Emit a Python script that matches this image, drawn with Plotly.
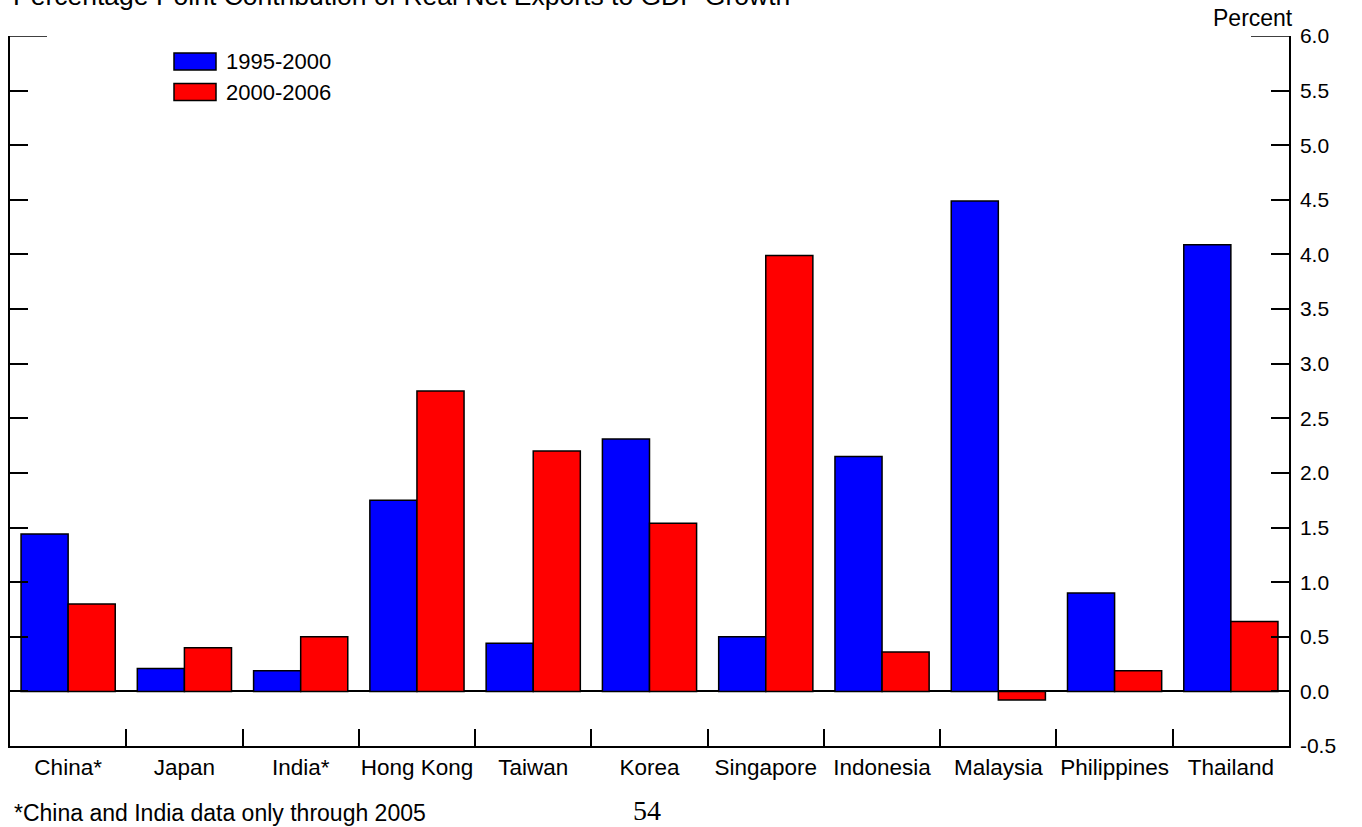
import plotly.graph_objects as go

categories = ["China*", "Japan", "India*", "Hong Kong", "Taiwan", "Korea",
              "Singapore", "Indonesia", "Malaysia", "Philippines", "Thailand"]
s1995_2000 = [1.44, 0.21, 0.19, 1.75, 0.44, 2.31, 0.50, 2.15, 4.49, 0.90, 4.09]
s2000_2006 = [0.80, 0.40, 0.50, 2.75, 2.20, 1.54, 3.99, 0.36, -0.08, 0.19, 0.64]
series_names = ["1995-2000", "2000-2006"]
series_colors = ["#0000FF", "#FF0000"]
ytick_vals = [6.0, 5.5, 5.0, 4.5, 4.0, 3.5, 3.0, 2.5, 2.0, 1.5, 1.0, 0.5, 0.0, -0.5]
ytick_text = ["6.0", "5.5", "5.0", "4.5", "4.0", "3.5", "3.0", "2.5", "2.0", "1.5",
              "1.0", "0.5", "0.0", "-0.5"]

W, H = 1362, 827
L, R, T, B = 10, 73, 36, 81
PW, PH = W - L - R, H - T - B
FONT = "Arial, Liberation Sans, sans-serif"

def px(x):
    return (x - L) / PW

def py(y):
    return 1 - (y - T) / PH

fig = go.Figure()
for name, vals, col in zip(series_names, [s1995_2000, s2000_2006], series_colors):
    fig.add_trace(go.Bar(x=categories, y=vals, name=name,
                         marker=dict(color=col, line=dict(color="black", width=1.5)),
                         showlegend=False))

fig.update_layout(
    width=W, height=H,
    margin=dict(l=L, r=R, t=T, b=B, autoexpand=False),
    paper_bgcolor="white", plot_bgcolor="white",
    barmode="group", bargap=0.19, bargroupgap=0,
    font=dict(family=FONT, size=16, color="black"),
    xaxis=dict(type="category", showgrid=False, showline=True, linecolor="black",
               linewidth=1.5, ticks="inside", tickson="boundaries", ticklen=17,
               tickcolor="black", tickwidth=1.5, mirror=False, tickangle=0,
               automargin=False,
               tickfont=dict(family=FONT, size=22.5), range=[-0.5, 10.5]),
    yaxis=dict(range=[-0.5, 6.0], side="right", showgrid=False, showline=True,
               linecolor="black", linewidth=1.5, ticks="inside", ticklen=18,
               tickcolor="black", tickwidth=1.5, tickvals=ytick_vals, automargin=False,
               ticktext=ytick_text, tickfont=dict(family=FONT, size=21),
               ticklabelstandoff=5,
               zeroline=True, zerolinecolor="black", zerolinewidth=2),
    yaxis2=dict(range=[-0.5, 6.0], overlaying="y", side="left", showgrid=False,
                showline=True, linecolor="black", linewidth=1.5, ticks="inside",
                ticklen=18, tickcolor="black", tickwidth=1.5, tickvals=ytick_vals,
                showticklabels=False, zeroline=False, automargin=False),
)
fig.add_trace(go.Scatter(x=[categories[0]], y=[None], yaxis="y2", showlegend=False,
                         hoverinfo="skip"))

shapes = []
shapes.append(dict(type="line", xref="paper", yref="y", x0=0, x1=px(47), y0=6.0, y1=6.0,
                   line=dict(color="black", width=1.5)))
shapes.append(dict(type="line", xref="paper", yref="y", x0=px(1251), x1=1, y0=6.0, y1=6.0,
                   line=dict(color="black", width=1.5)))
legend_centers = [61.5, 92]
for yc, col in zip(legend_centers, series_colors):
    shapes.append(dict(type="rect", xref="paper", yref="paper",
                       x0=px(174), x1=px(216), y0=py(yc - 8.5), y1=py(yc + 8.5),
                       fillcolor=col, line=dict(color="black", width=1.5)))
fig.update_layout(shapes=shapes)

annotations = []
for yc, name in zip(legend_centers, series_names):
    annotations.append(dict(text=name, xref="paper", yref="paper", x=px(224), y=py(yc),
                            xanchor="left", yanchor="middle", showarrow=False,
                            font=dict(family=FONT, size=22)))
annotations.append(dict(text="Percentage Point Contribution of Real Net Exports to GDP Growth",
                        xref="paper", yref="paper", x=px(11), y=py(-4), xanchor="left",
                        yanchor="middle", showarrow=False, font=dict(family=FONT, size=26.5)))
annotations.append(dict(text="Percent", xref="paper", yref="paper", x=px(1295), y=py(18),
                        xanchor="right", yanchor="middle", showarrow=False,
                        font=dict(family=FONT, size=23)))
annotations.append(dict(text="*China and India data only through 2005", xref="paper",
                        yref="paper", x=px(12), y=py(813), xanchor="left", yanchor="middle",
                        showarrow=False, font=dict(family=FONT, size=23)))
annotations.append(dict(text="54", xref="paper", yref="paper", x=px(647), y=py(810),
                        xanchor="center", yanchor="middle", showarrow=False,
                        font=dict(family="Liberation Serif, Times New Roman, serif", size=28)))
fig.update_layout(annotations=annotations)

fig.write_html("out.html", config={"displayModeBar": False},
               post_script="document.body.style.margin='0px';")
